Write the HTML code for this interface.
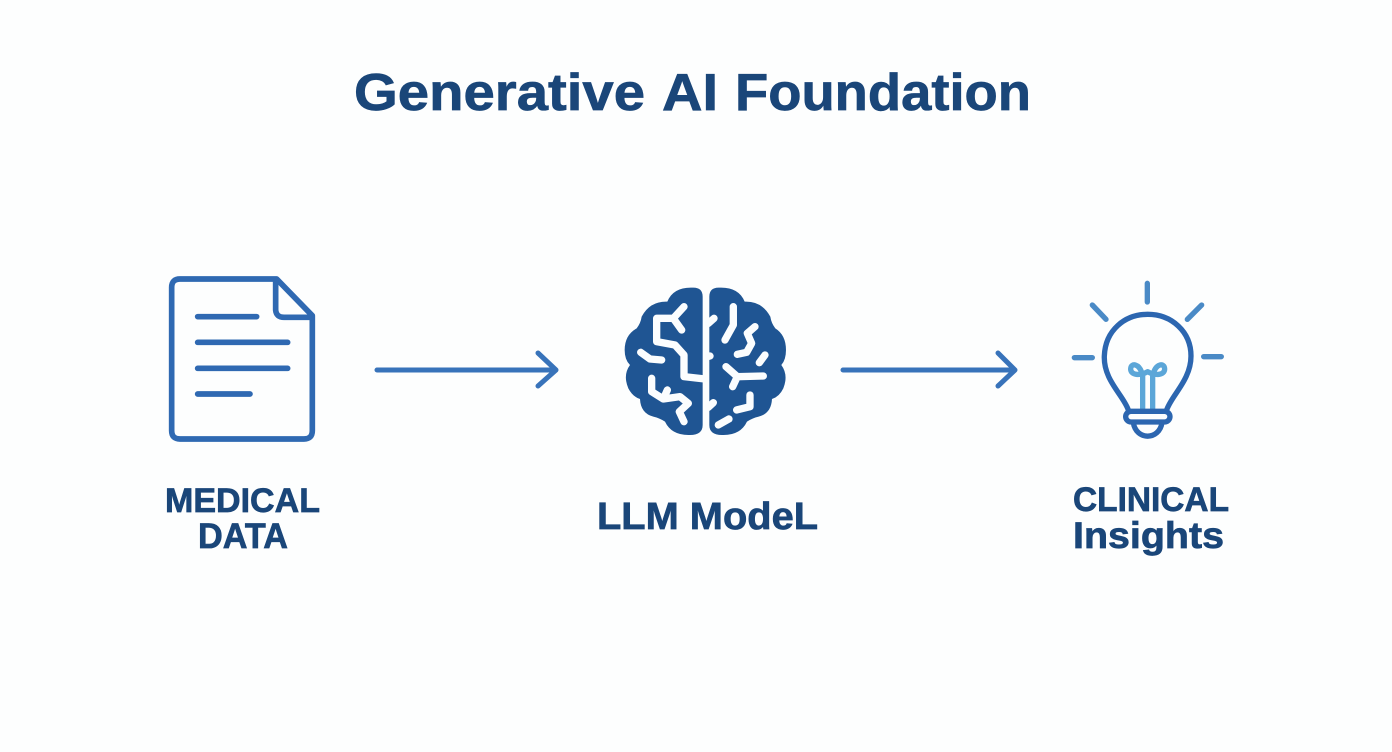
<!DOCTYPE html>
<html><head><meta charset="utf-8"><style>
html,body{margin:0;padding:0;background:#fdfefe;width:1392px;height:752px;overflow:hidden}
svg{display:block}
text{font-family:"Liberation Sans",sans-serif;font-weight:700;fill:#1a4679;stroke:#1a4679;stroke-width:.7px}
</style></head><body>
<svg width="1392" height="752" viewBox="0 0 1392 752" xmlns="http://www.w3.org/2000/svg">
<rect width="1392" height="752" fill="#fdfefe"/>
<text x="354" y="110" font-size="52" textLength="291" lengthAdjust="spacingAndGlyphs">Generative</text>
<text x="662" y="110" font-size="52" textLength="56" lengthAdjust="spacingAndGlyphs">AI</text>
<text x="735" y="110" font-size="52" textLength="296" lengthAdjust="spacingAndGlyphs">Foundation</text>
<text x="165" y="512" font-size="34" textLength="155" lengthAdjust="spacingAndGlyphs">MEDICAL</text>
<text x="198" y="548" font-size="35" textLength="90" lengthAdjust="spacingAndGlyphs">DATA</text>
<text x="597" y="529" font-size="38" textLength="221" lengthAdjust="spacingAndGlyphs">LLM ModeL</text>
<text x="1073" y="511" font-size="34" textLength="156" lengthAdjust="spacingAndGlyphs">CLINICAL</text>
<text x="1073" y="548" font-size="37" textLength="151" lengthAdjust="spacingAndGlyphs">Insights</text>

<g transform="translate(155,265) scale(.3333)" fill="none" stroke="#2f69b2" stroke-width="17" stroke-linecap="round" stroke-linejoin="round">
<path d="M365,42 L75,42 Q50,42 50,67 L50,497 Q50,522 75,522 L447,522 Q472,522 472,497 L472,152 Z"/>
<path d="M362,45 L362,135 Q364,157 387,157 L470,157"/>
<path d="M128,155H305M128,232H398M128,310H398M128,387H285"/>
</g>

<g fill="none" stroke="#3873ba" stroke-width="5" stroke-linecap="round" stroke-linejoin="round">
<path d="M377,370H555M538,353L556,370L538,386"/>
<path d="M843,370H1014M998,353L1015,370L998,386"/>
</g>

<g transform="translate(610,275) scale(.3333)">
<path fill="#1f5593" d="M278,65 Q278,38 250,38 Q190,35 172,80 Q120,78 95,125 Q92,145 80,160 Q44,180 44,225 Q44,255 60,270 Q38,300 55,340 Q68,365 90,372 Q92,415 130,425 Q150,430 165,440 Q185,482 240,480 Q278,480 278,450 Z"/>
<path fill="#1f5593" d="M298,65 Q298,38 326,38 Q386,35 404,80 Q456,78 481,125 Q484,145 496,160 Q528,180 528,225 Q528,255 514,270 Q536,300 520,340 Q508,365 486,372 Q484,415 446,425 Q426,430 411,440 Q391,482 336,480 Q298,480 298,450 Z"/>
<g fill="none" stroke="#fbfdfe" stroke-width="22" stroke-linecap="round" stroke-linejoin="round">
<path d="M222,95L190,130L215,165M190,130H140V200L195,210L222,240V305L285,312"/>
<path d="M92,232L120,252L155,255"/>
<path d="M125,310V350L160,372L172,345M160,372L210,365L235,385L208,410L222,440"/>
<path d="M370,95V150L345,195"/>
<path d="M435,155L412,175L425,205L410,232L382,238"/>
<path d="M465,240L448,263"/>
<path d="M348,275L382,305L460,303M382,305L368,335"/>
<path d="M420,360V395L380,405"/>
<path d="M357,432L325,450"/>
<path d="M312,130L295,145M300,243L296,244M310,383L295,397"/>
</g>
</g>

<g transform="translate(1060,270) scale(.3333)" fill="none" stroke-linecap="round" stroke-linejoin="round">
<g stroke="#4a8ac6" stroke-width="16">
<path d="M262,40V96M97,105L138,148M425,105L382,148M43,263H97M431,260H484"/>
</g>
<g stroke="#5ba6d8" stroke-width="16">
<path d="M248,420V318C240,278 212,278 212,297C212,316 240,318 263,305C286,318 314,316 314,297C314,278 286,278 278,318V420"/>
</g>
<g stroke="#2c66b0" stroke-width="16">
<path d="M205,420C190,375 130,330 133,258C136,180 195,133 263,133C335,133 393,185 393,258C393,330 335,375 320,420"/>
<rect x="197" y="424" width="133" height="32" rx="16"/>
<path d="M220,458C228,512 298,512 306,458"/>
</g>
</g>
</svg>
</body></html>
